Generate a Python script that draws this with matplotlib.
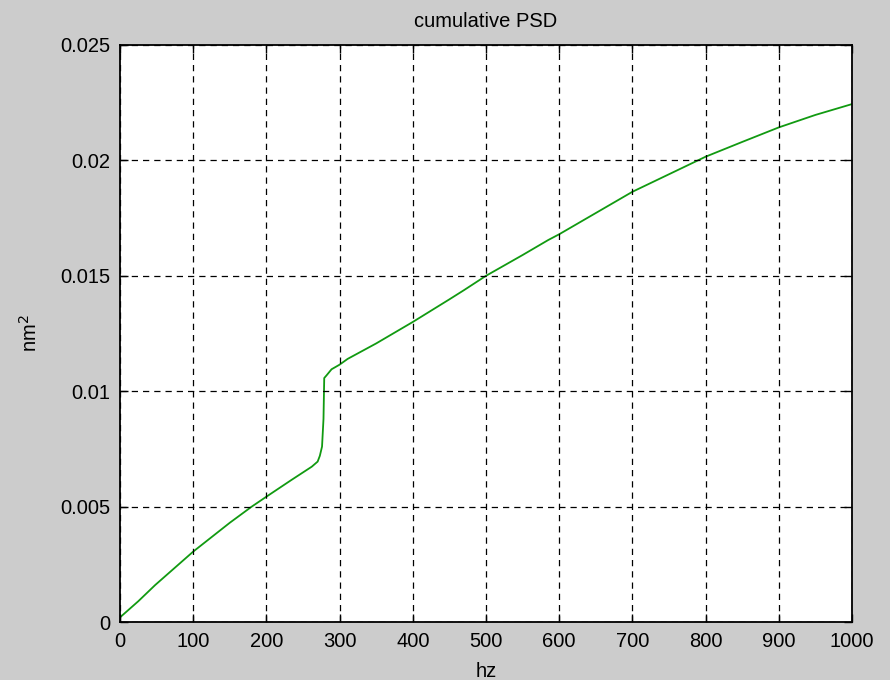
import numpy as np
import matplotlib
matplotlib.use("Agg")
import matplotlib.pyplot as plt

# Spectre cumulé
freq = [0, 25, 48, 100, 150, 180, 200, 234, 262, 270, 273, 276, 278, 279,
        282, 289, 300, 311, 350, 400, 450, 470, 500, 550, 585, 600, 650,
        700, 750, 800, 850, 900, 950, 1000]
psd_cum = [0.0002, 0.0009, 0.0016, 0.00305, 0.0043, 0.0050, 0.00543,
           0.00615, 0.00673, 0.00695, 0.0072, 0.0076, 0.0088, 0.01057,
           0.01068, 0.01095, 0.01115, 0.0114, 0.01207, 0.0130, 0.01398,
           0.01438, 0.0150, 0.0159, 0.01655, 0.0168, 0.01772, 0.01864,
           0.0194, 0.02016, 0.0208, 0.02143, 0.02197, 0.02244]

xticks = np.arange(0, 1001, 100)
yticks = [0, 0.005, 0.01, 0.015, 0.02, 0.025]
ylabels = ["0", "0.005", "0.01", "0.015", "0.02", "0.025"]

plt.rcParams["font.family"] = ["Liberation Sans", "DejaVu Sans"]

fig = plt.figure(figsize=(8.9, 6.8), dpi=100, facecolor="#cccccc")
ax = fig.add_axes([120 / 890, 58 / 680, 732 / 890, 577 / 680])
ax.set_facecolor("white")

ax.plot(freq, psd_cum, color="#119a11", linewidth=1.3)

ax.set_xlim(0, 1000)
ax.set_ylim(0, 0.025)
ax.set_xticks(xticks)
ax.set_yticks(yticks)
ax.set_yticklabels(ylabels)
ax.tick_params(direction="in", length=6, width=1, labelsize=14.5,
               colors="black", pad=7, top=True, right=True)
for s in ax.spines.values():
    s.set_linewidth(1.3)
    s.set_color("black")

ax.grid(True, color="black", linewidth=0.9, linestyle=(0, (5, 4)))
ax.set_axisbelow(False)

ax.set_title("cumulative PSD", fontsize=14.5, pad=13)
ax.set_xlabel("hz", fontsize=14.5, labelpad=8)
ax.set_ylabel("nm$^2$", fontsize=14.5, labelpad=14)

fig.savefig("out.png", dpi=100, facecolor=fig.get_facecolor())
